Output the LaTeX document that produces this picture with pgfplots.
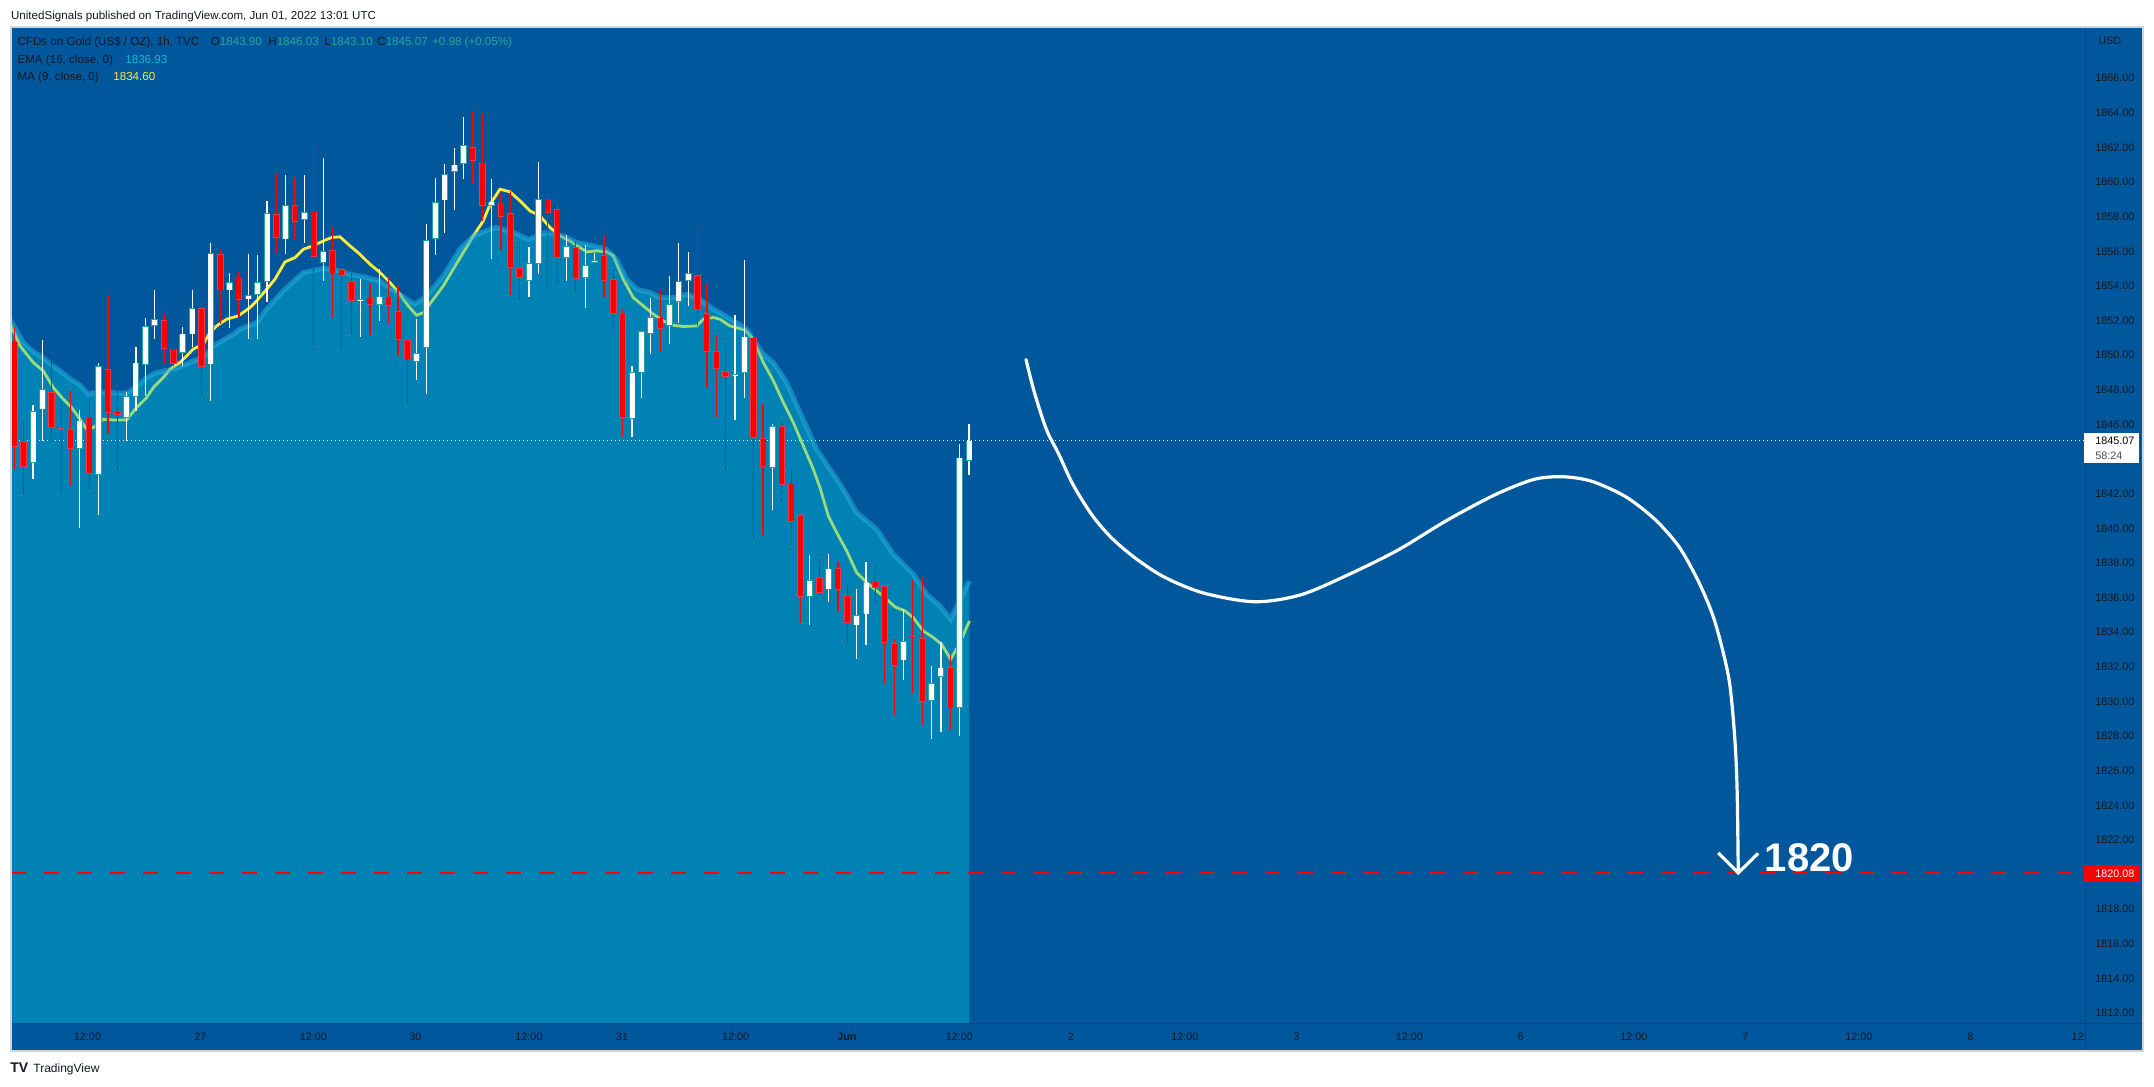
\documentclass[border=0pt]{standalone}
\usepackage{fontspec}
\setmainfont{Liberation Sans}
\usepackage{pgfplots}
\pgfplotsset{compat=1.18}
\usepackage{pgfplotstable}

\definecolor{tvblue}{RGB}{1,87,155}
\definecolor{tvline}{RGB}{0,70,132}
\definecolor{framegray}{RGB}{209,212,220}
\definecolor{emafill}{RGB}{0,195,218}
\definecolor{emaband}{RGB}{40,180,225}
\definecolor{maline}{RGB}{255,235,59}
\definecolor{upborder}{RGB}{38,166,154}
\definecolor{dnfill}{RGB}{255,0,0}
\definecolor{dnborder}{RGB}{242,54,69}
\definecolor{txt}{RGB}{19,23,34}
\definecolor{tealval}{RGB}{38,166,154}
\definecolor{cyanval}{RGB}{0,188,212}

% hourly candles, i = bar index (0 = first bar on screen)
\pgfplotstableread{
i o h l c
2 1843.80 1847.11 1842.84 1846.78
3 1846.88 1850.89 1845.05 1848.07
7 1844.61 1846.82 1840.04 1846.24
9 1843.12 1849.58 1840.78 1849.38
12 1846.40 1847.90 1845.05 1847.65
13 1847.61 1850.50 1846.78 1849.58
14 1849.42 1852.14 1847.65 1851.69
15 1851.73 1853.81 1850.96 1852.12
18 1850.12 1851.64 1849.38 1851.25
19 1851.21 1853.77 1850.50 1852.75
21 1849.48 1856.51 1847.36 1855.93
23 1853.75 1854.78 1851.56 1854.24
25 1853.23 1855.83 1850.96 1853.48
26 1853.48 1855.78 1850.96 1854.24
27 1854.24 1858.92 1853.08 1858.24
29 1856.70 1860.40 1855.83 1858.67
31 1857.82 1860.40 1856.47 1858.30
33 1855.35 1861.42 1854.33 1856.03
37 1853.16 1854.39 1851.06 1853.27
39 1852.91 1854.97 1851.98 1853.39
43 1849.63 1852.08 1848.56 1850.15
44 1850.44 1857.57 1847.75 1856.66
45 1856.74 1860.26 1855.83 1858.86
46 1858.95 1861.03 1857.05 1860.49
47 1860.59 1862.00 1858.38 1861.01
48 1861.07 1863.79 1860.17 1862.15
51 1858.63 1860.17 1855.55 1858.88
55 1854.29 1856.26 1853.37 1855.35
56 1855.26 1861.17 1854.68 1859.01
59 1855.64 1856.93 1854.29 1856.32
61 1854.45 1856.35 1852.71 1855.22
62 1855.35 1855.89 1855.31 1855.51
66 1846.34 1849.38 1845.28 1849.04
67 1849.00 1851.41 1847.52 1851.41
68 1851.25 1853.33 1850.06 1852.23
70 1851.73 1854.58 1850.64 1852.98
71 1853.10 1856.47 1851.85 1854.29
72 1854.29 1855.99 1852.85 1854.78
77 1848.84 1852.31 1846.26 1848.94
78 1849.00 1855.49 1847.52 1851.08
81 1843.51 1846.07 1841.06 1845.92
85 1836.06 1838.45 1834.42 1837.02
87 1836.48 1838.56 1835.75 1837.68
90 1834.40 1836.48 1832.44 1835.00
91 1835.04 1838.06 1833.25 1836.87
95 1832.38 1835.33 1831.24 1833.50
98 1830.03 1832.09 1827.82 1831.09
99 1831.44 1833.46 1828.24 1831.96
101 1829.65 1844.86 1828.01 1844.09
102 1843.90 1846.03 1843.10 1845.07
}\upbars

\pgfplotstableread{
i o h l c
0 1850.79 1851.64 1843.45 1844.72
1 1845.05 1846.21 1841.93 1843.57
4 1847.90 1849.83 1844.95 1845.82
5 1845.78 1847.27 1842.07 1845.69
6 1845.76 1847.94 1842.45 1844.61
8 1846.46 1847.46 1842.30 1843.16
10 1849.23 1853.49 1845.47 1846.69
11 1846.75 1848.04 1843.38 1846.57
16 1852.02 1852.37 1849.48 1850.38
17 1850.38 1850.44 1849.38 1849.52
20 1852.75 1853.18 1847.75 1849.34
22 1855.87 1856.16 1851.79 1853.75
24 1854.49 1854.83 1852.18 1853.20
28 1858.18 1860.51 1855.93 1856.80
30 1858.67 1860.32 1856.64 1857.70
32 1858.30 1862.05 1850.25 1855.70
34 1856.07 1857.43 1852.14 1854.72
35 1854.97 1855.93 1850.38 1854.58
36 1854.29 1854.97 1851.15 1853.14
38 1853.33 1854.10 1851.15 1852.91
40 1853.39 1854.54 1851.85 1852.85
41 1852.54 1854.04 1849.94 1850.90
42 1850.87 1850.96 1847.27 1849.77
49 1862.05 1864.11 1859.97 1861.23
50 1861.13 1863.98 1857.76 1858.63
52 1858.82 1859.30 1856.09 1858.01
53 1858.24 1859.49 1853.48 1855.06
54 1855.06 1856.60 1853.18 1854.49
57 1859.05 1859.15 1853.87 1858.24
58 1858.47 1858.72 1854.20 1855.64
60 1856.26 1856.60 1853.75 1854.43
63 1855.78 1856.93 1853.37 1854.29
64 1854.43 1854.97 1851.46 1852.41
65 1852.41 1852.66 1845.28 1846.40
69 1852.18 1853.75 1850.19 1851.54
73 1854.64 1857.18 1851.69 1852.62
74 1852.46 1854.10 1848.19 1850.19
75 1850.25 1851.15 1846.44 1849.23
76 1849.09 1850.73 1843.36 1848.77
79 1851.02 1851.41 1839.43 1845.24
80 1845.24 1847.17 1839.62 1843.57
82 1845.92 1846.30 1841.53 1842.53
83 1842.59 1843.36 1839.04 1840.39
84 1840.76 1840.81 1834.52 1836.06
86 1837.19 1838.22 1836.14 1836.29
88 1837.73 1838.06 1835.23 1836.44
89 1836.14 1836.77 1833.44 1834.56
92 1836.93 1837.87 1835.62 1836.58
93 1836.67 1836.71 1831.00 1833.40
94 1833.40 1833.63 1829.22 1832.09
96 1833.75 1837.02 1830.51 1833.65
97 1833.69 1837.21 1828.64 1830.00
100 1832.01 1832.67 1828.39 1829.61
}\dnbars

\pgfplotsset{
  bar part/.style 2 args={draw=none, forget plot,
    error bars/.cd, y dir=both, y explicit, error mark=none,
    error bar style={line width=#2, draw=#1}},
}

\newcommand\ticksize{\fontsize{5.4}{6}\selectfont}
\newcommand\headsize{\fontsize{5.8}{7}\selectfont}

\begin{document}
\begin{tikzpicture}
% page, 1 px of the reference = 0.5pt
\path[use as bounding box] (-5.5pt,-31.5pt) rectangle (1071.5pt,512pt);
\fill[white] (-5.5pt,-31.5pt) rectangle (1071.5pt,512pt);
\fill[tvblue] (0pt,-13.5pt) rectangle (1066pt,498.5pt);

\begin{axis}[
    at={(0pt,0pt)}, anchor=south west,
    scale only axis, width=1037pt, height=498.5pt,
    xmin=-0.353, xmax=221.23,
    ymin=1811.37, ymax=1868.96,
    axis line style={draw=none},
    major tick length=0pt,
    ytick={1812,1814,1816,1818,1822,1824,1826,1828,1830,1832,1834,1836,1838,1840,1842,1846,1848,1850,1852,1854,1856,1858,1860,1862,1864,1866},
    yticklabel pos=right,
    yticklabel style={anchor=west, inner sep=0pt, xshift=5pt, font=\ticksize, text=txt},
    /pgf/number format/.cd, fixed, fixed zerofill, precision=2, 1000 sep={}, assume math mode=true,
    /pgfplots/.cd,
    xtick={7.82,19.88,31.96,42.84,54.99,64.93,77.06,88.96,100.97,112.89,125.07,136.99,149.05,160.97,173.04,184.96,197.08,209.02,220.6},
    xticklabels={12:00,27,12:00,30,12:00,31,12:00,{\bfseries Jun},12:00,2,12:00,3,12:00,6,12:00,7,12:00,8,12:},
    xticklabel style={anchor=center, inner sep=0pt, yshift=-6.5pt, font=\ticksize, text=txt},
]

% MA (9)
\addplot[maline, line width=1.4pt] coordinates {
(-0.5,1851.9) (0.61,1850.54) (2.03,1849.58) (3.10,1849.09) (4.17,1848.13) (5.24,1847.46)
(6.13,1846.98) (7.02,1846.30) (7.73,1845.72) (8.44,1845.82) (9.51,1846.30) (10.58,1846.26)
(12.0,1846.26) (13.07,1846.98) (14.14,1847.55) (14.85,1848.13) (15.92,1848.71) (16.63,1849.19)
(17.70,1849.58) (18.41,1849.96) (19.12,1850.35) (20.19,1850.64) (20.90,1851.31) (21.62,1851.69)
(22.68,1852.08) (23.93,1852.27) (25.18,1852.75) (25.89,1853.14) (26.96,1853.81) (27.85,1854.39)
(28.92,1855.39) (29.99,1855.64) (30.88,1856.12) (31.94,1856.32) (33.01,1856.60) (33.90,1856.80)
(34.79,1856.84) (35.86,1856.32) (36.93,1855.83) (38.0,1855.26) (39.07,1854.78) (40.14,1854.20)
(41.20,1853.52) (42.09,1852.85) (42.98,1852.31) (43.70,1852.46) (44.77,1853.23) (45.83,1854.00)
(46.90,1854.97) (47.97,1855.93) (49.04,1856.89) (50.11,1857.76) (50.82,1858.70) (51.89,1859.59)
(52.96,1859.44) (54.02,1858.92) (55.09,1858.34) (56.16,1858.05) (57.23,1857.38) (58.30,1856.89)
(59.37,1856.60) (60.43,1856.22) (61.15,1855.97) (62.21,1856.03) (63.28,1855.97) (64.0,1855.74)
(65.06,1854.39) (66.13,1853.33) (67.20,1852.85) (68.27,1852.37) (69.34,1851.98) (70.41,1851.73)
(71.47,1851.66) (72.90,1851.69) (73.61,1852.08) (74.68,1852.18) (75.40,1852.08) (76.46,1851.69)
(78.07,1851.46) (78.96,1850.92) (80.03,1849.58) (81.10,1848.52) (82.17,1847.27) (83.23,1846.11)
(84.30,1844.76) (85.37,1843.41) (86.08,1842.35) (86.97,1840.72) (87.86,1839.76) (88.93,1838.70)
(90.0,1837.44) (91.07,1836.87) (92.14,1836.39) (93.21,1835.90) (94.10,1835.46) (95.16,1835.23)
(96.05,1834.84) (97.12,1834.07) (98.19,1833.69) (99.08,1833.30) (100.04,1832.44) (101.04,1833.40)
(102.04,1834.65)
};

% EMA (16) area and line
\addplot[draw=none, fill=emafill, fill opacity=0.4] coordinates {
(-0.5,1811) (-0.5,1852.1) (0.96,1850.73) (2.03,1850.21) (2.92,1849.92) (3.81,1849.52) (4.88,1849.09)
(5.95,1848.65) (7.02,1848.27) (7.9,1847.75) (8.8,1847.88) (10.2,1847.84) (12.0,1847.80)
(13.1,1848.19) (14.1,1848.71) (15.2,1849.00) (17.3,1849.23) (19.1,1849.67) (20.2,1849.86)
(21.3,1850.54) (23.4,1851.21) (24.1,1851.50) (25.9,1851.89) (26.96,1852.66) (28.74,1853.72)
(30.88,1854.78) (33.01,1855.01) (34.08,1854.97) (35.86,1854.68) (37.64,1854.49) (39.07,1854.29)
(40.85,1853.62) (41.92,1853.23) (42.81,1852.95) (44.05,1853.43) (45.83,1854.58) (47.61,1856.12)
(49.04,1856.89) (50.82,1857.28) (51.53,1857.38) (53.31,1857.09) (54.91,1856.70) (56.87,1857.09)
(58.65,1856.89) (60.08,1856.51) (61.86,1856.32) (63.28,1856.12) (64.35,1855.55) (65.42,1854.39)
(66.49,1853.81) (67.91,1853.62) (68.98,1853.33) (70.40,1853.33) (71.83,1853.52) (73.25,1853.23)
(74.68,1852.66) (75.40,1852.46) (76.83,1851.98) (78.25,1851.50) (80.03,1850.06) (81.10,1849.58)
(82.52,1848.42) (83.95,1846.69) (85.73,1844.57) (87.15,1843.41) (88.58,1842.26) (90.00,1840.91)
(92.14,1839.95) (93.92,1838.50) (96.05,1837.35) (97.48,1836.19) (98.90,1835.52) (100.04,1834.75)
(101.04,1835.90) (102.04,1836.96) (102.04,1811)
};
\addplot[emaband, opacity=0.5, line width=2.5pt] coordinates {
(-0.5,1852.1) (0.96,1850.73) (2.03,1850.21) (2.92,1849.92) (3.81,1849.52) (4.88,1849.09)
(5.95,1848.65) (7.02,1848.27) (7.9,1847.75) (8.8,1847.88) (10.2,1847.84) (12.0,1847.80)
(13.1,1848.19) (14.1,1848.71) (15.2,1849.00) (17.3,1849.23) (19.1,1849.67) (20.2,1849.86)
(21.3,1850.54) (23.4,1851.21) (24.1,1851.50) (25.9,1851.89) (26.96,1852.66) (28.74,1853.72)
(30.88,1854.78) (33.01,1855.01) (34.08,1854.97) (35.86,1854.68) (37.64,1854.49) (39.07,1854.29)
(40.85,1853.62) (41.92,1853.23) (42.81,1852.95) (44.05,1853.43) (45.83,1854.58) (47.61,1856.12)
(49.04,1856.89) (50.82,1857.28) (51.53,1857.38) (53.31,1857.09) (54.91,1856.70) (56.87,1857.09)
(58.65,1856.89) (60.08,1856.51) (61.86,1856.32) (63.28,1856.12) (64.35,1855.55) (65.42,1854.39)
(66.49,1853.81) (67.91,1853.62) (68.98,1853.33) (70.40,1853.33) (71.83,1853.52) (73.25,1853.23)
(74.68,1852.66) (75.40,1852.46) (76.83,1851.98) (78.25,1851.50) (80.03,1850.06) (81.10,1849.58)
(82.52,1848.42) (83.95,1846.69) (85.73,1844.57) (87.15,1843.41) (88.58,1842.26) (90.00,1840.91)
(92.14,1839.95) (93.92,1838.50) (96.05,1837.35) (97.48,1836.19) (98.90,1835.52) (100.04,1834.75)
(101.04,1835.90) (102.04,1836.96)
};

% last price and target levels
\addplot[white, line width=0.5pt, dash pattern=on 0.5pt off 1.5pt] coordinates {(-0.353,1845.07) (221.23,1845.07)};
\addplot[dnfill, line width=1.1pt, dash pattern=on 7.35pt off 9.15pt] coordinates {(-0.353,1820.08) (221.23,1820.08)};

% wicks
\addplot[bar part={white}{0.6pt}] table[x=i, y expr={(\thisrow{h}+\thisrow{l})/2}, y error expr={(\thisrow{h}-\thisrow{l})/2}] {\upbars};
\addplot[bar part={dnfill}{0.6pt}] table[x=i, y expr={(\thisrow{h}+\thisrow{l})/2}, y error expr={(\thisrow{h}-\thisrow{l})/2}] {\dnbars};
% bodies: border, then fill
\addplot[bar part={upborder}{3.3pt}] table[x=i, y expr={(\thisrow{o}+\thisrow{c})/2}, y error expr={max(abs(\thisrow{c}-\thisrow{o})/2,0.06)}] {\upbars};
\addplot[bar part={white}{2.5pt}] table[x=i, y expr={(\thisrow{o}+\thisrow{c})/2}, y error expr={max(abs(\thisrow{c}-\thisrow{o})/2-0.046,0)}] {\upbars};
\addplot[bar part={dnborder}{3.3pt}] table[x=i, y expr={(\thisrow{o}+\thisrow{c})/2}, y error expr={max(abs(\thisrow{c}-\thisrow{o})/2,0.06)}] {\dnbars};
\addplot[bar part={dnfill}{2.5pt}] table[x=i, y expr={(\thisrow{o}+\thisrow{c})/2}, y error expr={max(abs(\thisrow{c}-\thisrow{o})/2-0.046,0)}] {\dnbars};

% projected path
\addplot[white, line width=1.6pt, smooth, line cap=round] coordinates {
(108.09,1849.75) (108.96,1847.90) (110.27,1845.71) (111.56,1844.32) (113.11,1842.53)
(115.18,1840.74) (117.25,1839.44) (119.84,1838.25) (122.95,1837.16) (127.09,1836.26)
(132.53,1835.76) (137.45,1836.16) (142.63,1837.35) (147.81,1838.74) (152.99,1840.44)
(158.16,1841.93) (162.31,1842.82) (165.42,1842.98) (168.53,1842.72) (172.15,1841.83)
(175.26,1840.53) (177.84,1838.95) (179.91,1836.96) (181.47,1834.97) (182.51,1832.98)
(183.28,1830.99) (183.80,1828.00) (184.06,1825.02) (184.19,1820.10)
};
\addplot[white, line width=1.6pt] coordinates {(182.05,1821.26) (184.19,1820.10) (186.32,1821.23)};
\node[anchor=base west, inner sep=0pt, text=white, font=\fontsize{20}{24}\selectfont\bfseries] at (axis cs:187.0,1820.15) {1820};
\end{axis}

% frame and scale separators
\draw[tvline, line width=0.5pt] (0pt,0pt) -- (1066pt,0pt);
\draw[tvline, line width=0.5pt] (1037pt,-13.5pt) -- (1037pt,498.5pt);
\draw[framegray, line width=0.6pt] (0pt,-13.5pt) rectangle (1066pt,498.5pt);

% price tags
\fill[white] (1036.5pt,280.35pt) rectangle (1064.2pt,295.65pt);
\node[anchor=base west, inner sep=0pt, font=\ticksize, text=black] at (1042pt,289.65pt) {1845.07};
\node[anchor=base west, inner sep=0pt, font=\ticksize, text=black!70] at (1042pt,282.15pt) {58:24};
\fill[dnfill] (1036.5pt,71pt) rectangle (1064.5pt,79.5pt);
\node[anchor=base west, inner sep=0pt, font=\ticksize, text=white] at (1042pt,73.3pt) {1820.08};
\node[anchor=base west, inner sep=0pt, font=\ticksize, text=txt] at (1043.5pt,489.5pt) {USD};

% header
\node[anchor=base west, inner sep=0pt, font=\headsize, text=txt] at (-0.15pt,502.35pt) {UnitedSignals published on TradingView.com, Jun 01, 2022 13:01 UTC};
\node[anchor=base west, inner sep=0pt, font=\headsize, text=txt] at (3.1pt,489.05pt) {CFDs on Gold (US\$ / OZ), 1h, TVC};
\node[anchor=base west, inner sep=0pt, font=\headsize, text=txt] at (99.75pt,489.05pt) {O\textcolor{tealval}{1843.90}};
\node[anchor=base west, inner sep=0pt, font=\headsize, text=txt] at (128.5pt,489.05pt) {H\textcolor{tealval}{1846.03}};
\node[anchor=base west, inner sep=0pt, font=\headsize, text=txt] at (156.5pt,489.05pt) {L\textcolor{tealval}{1843.10}};
\node[anchor=base west, inner sep=0pt, font=\headsize, text=txt] at (183pt,489.05pt) {C\textcolor{tealval}{1845.07}};
\node[anchor=base west, inner sep=0pt, font=\headsize, text=tealval] at (210.35pt,489.05pt) {+0.98 (+0.05\%)};
\node[anchor=base west, inner sep=0pt, font=\headsize, text=txt] at (3.1pt,480.4pt) {EMA (16, close, 0)};
\node[anchor=base west, inner sep=0pt, font=\headsize, text=cyanval] at (57pt,480.4pt) {1836.93};
\node[anchor=base west, inner sep=0pt, font=\headsize, text=txt] at (3.1pt,471.9pt) {MA (9, close, 0)};
\node[anchor=base west, inner sep=0pt, font=\headsize, text=maline] at (51pt,471.9pt) {1834.60};

% footer
\node[anchor=base west, inner sep=0pt, font=\fontsize{7}{8}\selectfont\bfseries, text=txt] at (-0.5pt,-24.5pt) {TV};
\node[anchor=base west, inner sep=0pt, font=\fontsize{6}{7}\selectfont, text=txt] at (11pt,-24.5pt) {TradingView};
\end{tikzpicture}
\end{document}
